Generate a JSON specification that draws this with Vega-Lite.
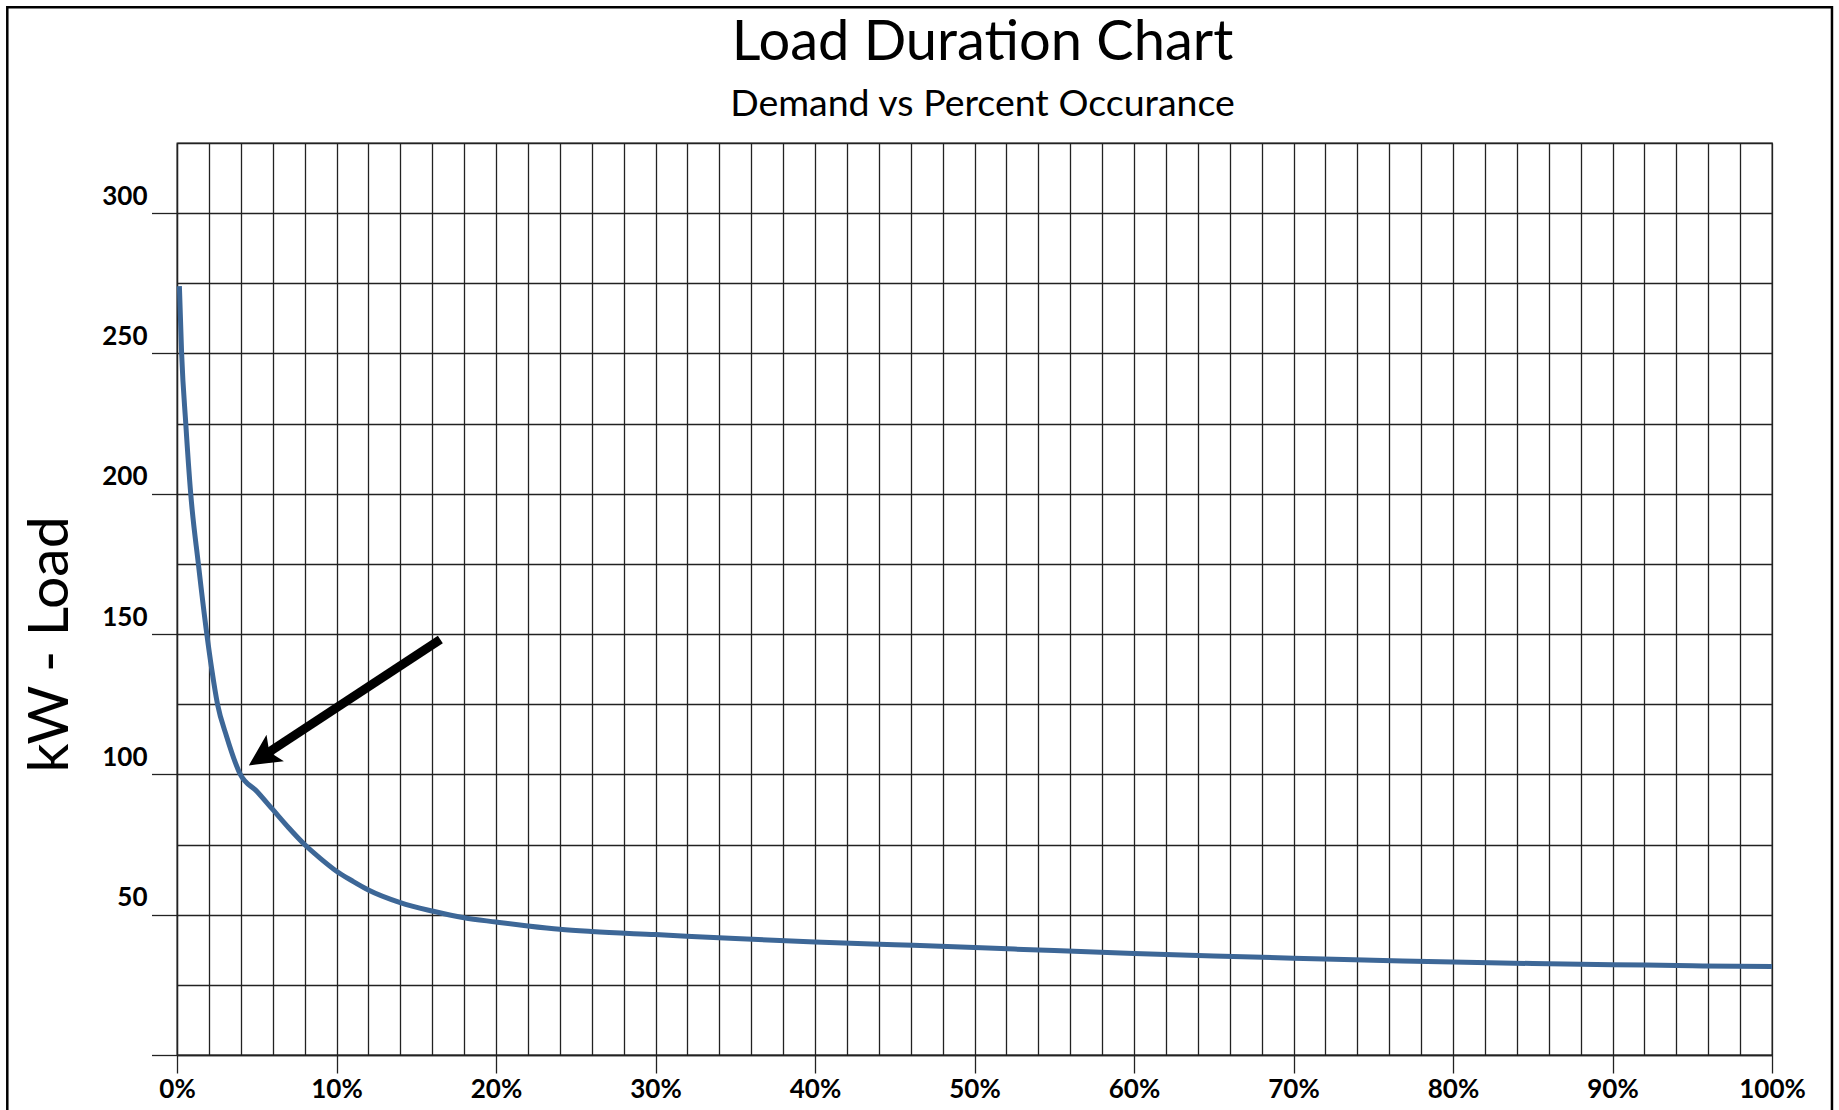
{
  "$schema": "https://vega.github.io/schema/vega-lite/v6.json",
  "width": 1595,
  "height": 912,
  "autosize": {"type": "none"},
  "padding": {"left": 177, "top": 143, "right": 67, "bottom": 55},
  "background": "white",
  "title": {
    "text": "Load Duration Chart",
    "subtitle": "Demand vs Percent Occurance",
    "font": "Lato",
    "fontSize": 56,
    "fontWeight": "normal",
    "color": "black",
    "subtitleFont": "Lato",
    "subtitleFontSize": 37.5,
    "subtitleColor": "black",
    "subtitlePadding": 14,
    "offset": -119,
    "anchor": "middle",
    "frame": "group",
    "dx": 8
  },
  "config": {
    "view": {"stroke": "#222", "strokeWidth": 1.3}
  },
  "datasets": {
    "load": [
      {"pct": 0.0015, "kw": 274},
      {"pct": 0.0029, "kw": 250},
      {"pct": 0.0055, "kw": 225},
      {"pct": 0.0086, "kw": 200},
      {"pct": 0.0134, "kw": 175},
      {"pct": 0.0187, "kw": 150},
      {"pct": 0.0218, "kw": 137.4},
      {"pct": 0.0254, "kw": 125},
      {"pct": 0.031, "kw": 113.7},
      {"pct": 0.0397, "kw": 100},
      {"pct": 0.05, "kw": 94},
      {"pct": 0.06, "kw": 87.5},
      {"pct": 0.07, "kw": 81},
      {"pct": 0.08, "kw": 75},
      {"pct": 0.09, "kw": 70},
      {"pct": 0.10, "kw": 65.5},
      {"pct": 0.11, "kw": 62},
      {"pct": 0.12, "kw": 58.8},
      {"pct": 0.14, "kw": 54.3},
      {"pct": 0.16, "kw": 51.3},
      {"pct": 0.18, "kw": 48.9},
      {"pct": 0.20, "kw": 47.4},
      {"pct": 0.22, "kw": 46},
      {"pct": 0.24, "kw": 44.8},
      {"pct": 0.26, "kw": 44},
      {"pct": 0.30, "kw": 42.9},
      {"pct": 0.35, "kw": 41.5},
      {"pct": 0.40, "kw": 40.3},
      {"pct": 0.45, "kw": 39.3},
      {"pct": 0.50, "kw": 38.3},
      {"pct": 0.55, "kw": 37.2},
      {"pct": 0.60, "kw": 36.2},
      {"pct": 0.65, "kw": 35.3},
      {"pct": 0.70, "kw": 34.5},
      {"pct": 0.75, "kw": 33.8},
      {"pct": 0.80, "kw": 33.1},
      {"pct": 0.85, "kw": 32.6},
      {"pct": 0.90, "kw": 32.2},
      {"pct": 0.95, "kw": 31.8},
      {"pct": 1.00, "kw": 31.5}
    ],
    "shaft": [
      {"pct": 0.1651, "kw": 148.1, "pct2": 0.0575, "kw2": 107.9}
    ],
    "head": [
      {"pct": 0.0533, "kw": 106.3}
    ]
  },
  "layer": [
    {
      "data": {"name": "load"},
      "mark": {"type": "line", "interpolate": "monotone", "color": "#3d6797", "strokeWidth": 5, "strokeCap": "butt"},
      "encoding": {
        "x": {
          "field": "pct",
          "type": "quantitative",
          "scale": {"domain": [0, 1], "nice": false, "zero": false},
          "axis": {
            "values": [0,0.02,0.04,0.06,0.08,0.1,0.12,0.14,0.16,0.18,0.2,0.22,0.24,0.26,0.28,0.3,0.32,0.34,0.36,0.38,0.4,0.42,0.44,0.46,0.48,0.5,0.52,0.54,0.56,0.58,0.6,0.62,0.64,0.66,0.68,0.7,0.72,0.74,0.76,0.78,0.8,0.82,0.84,0.86,0.88,0.9,0.92,0.94,0.96,0.98,1],
            "tickCount": 200,
            "labelExpr": "round(datum.value*50) % 5 == 0 ? format(datum.value, '.0%') : ''",
            "grid": true,
            "gridColor": "#222",
            "gridWidth": 1.3,
            "gridOpacity": 1,
            "ticks": true,
            "tickSize": 18,
            "tickWidth": 1.3,
            "tickColor": {"condition": {"test": "round(datum.value*50) % 5 == 0", "value": "#222"}, "value": "transparent"},
            "domainColor": "#222",
            "domainWidth": 1.3,
            "labelFont": "Lato",
            "labelFontSize": 26,
            "labelFontWeight": "bold",
            "labelColor": "black",
            "labelPadding": 3,
            "labelFlush": false,
            "labelOverlap": false,
            "labelBound": false,
            "title": null
          }
        },
        "y": {
          "field": "kw",
          "type": "quantitative",
          "scale": {"domain": [0, 325], "nice": false, "zero": false},
          "axis": {
            "values": [0,25,50,75,100,125,150,175,200,225,250,275,300,325],
            "tickCount": 100,
            "labelExpr": "datum.value % 50 == 0 && datum.value > 0 ? datum.label : ''",
            "grid": true,
            "gridColor": "#222",
            "gridWidth": 1.3,
            "gridOpacity": 1,
            "ticks": true,
            "tickSize": 25.5,
            "tickWidth": 1.3,
            "tickColor": {"condition": {"test": "datum.value % 50 == 0", "value": "#222"}, "value": "transparent"},
            "domainColor": "#222",
            "domainWidth": 1.3,
            "labelFont": "Lato",
            "labelFontSize": 26,
            "labelFontWeight": "bold",
            "labelColor": "black",
            "labelPadding": 4.5,
            "labelBaseline": "alphabetic",
            "labelOffset": -9,
            "labelOverlap": false,
            "labelBound": false,
            "title": "kW - Load",
            "titleFont": "Lato",
            "titleFontSize": 57,
            "titleFontWeight": "normal",
            "titleColor": "black",
            "titleY": 501,
            "titlePadding": 22
          }
        }
      }
    },
    {
      "data": {"name": "shaft"},
      "mark": {"type": "rule", "color": "black", "strokeWidth": 9, "strokeCap": "butt"},
      "encoding": {
        "x": {"field": "pct", "type": "quantitative", "scale": {"domain": [0, 1], "nice": false, "zero": false}},
        "y": {"field": "kw", "type": "quantitative", "scale": {"domain": [0, 325], "nice": false, "zero": false}},
        "x2": {"field": "pct2"},
        "y2": {"field": "kw2"}
      }
    },
    {
      "data": {"name": "head"},
      "mark": {"type": "point", "shape": "M0,-1L1,1L0,0.55L-1,1Z", "filled": true, "color": "black", "opacity": 1, "size": 1000, "angle": 236.6, "strokeWidth": 0},
      "encoding": {
        "x": {"field": "pct", "type": "quantitative", "scale": {"domain": [0, 1], "nice": false, "zero": false}},
        "y": {"field": "kw", "type": "quantitative", "scale": {"domain": [0, 325], "nice": false, "zero": false}}
      }
    },
    {
      "data": {"values": [{"x": -0.1064, "x2": 1.0376, "y": 373.4, "y2": -40}]},
      "mark": {"type": "rect", "fill": null, "stroke": "black", "strokeWidth": 2.5, "clip": false},
      "encoding": {
        "x": {"field": "x", "type": "quantitative", "scale": {"domain": [0, 1], "nice": false, "zero": false}},
        "x2": {"field": "x2"},
        "y": {"field": "y", "type": "quantitative", "scale": {"domain": [0, 325], "nice": false, "zero": false}},
        "y2": {"field": "y2"}
      }
    }
  ]
}
